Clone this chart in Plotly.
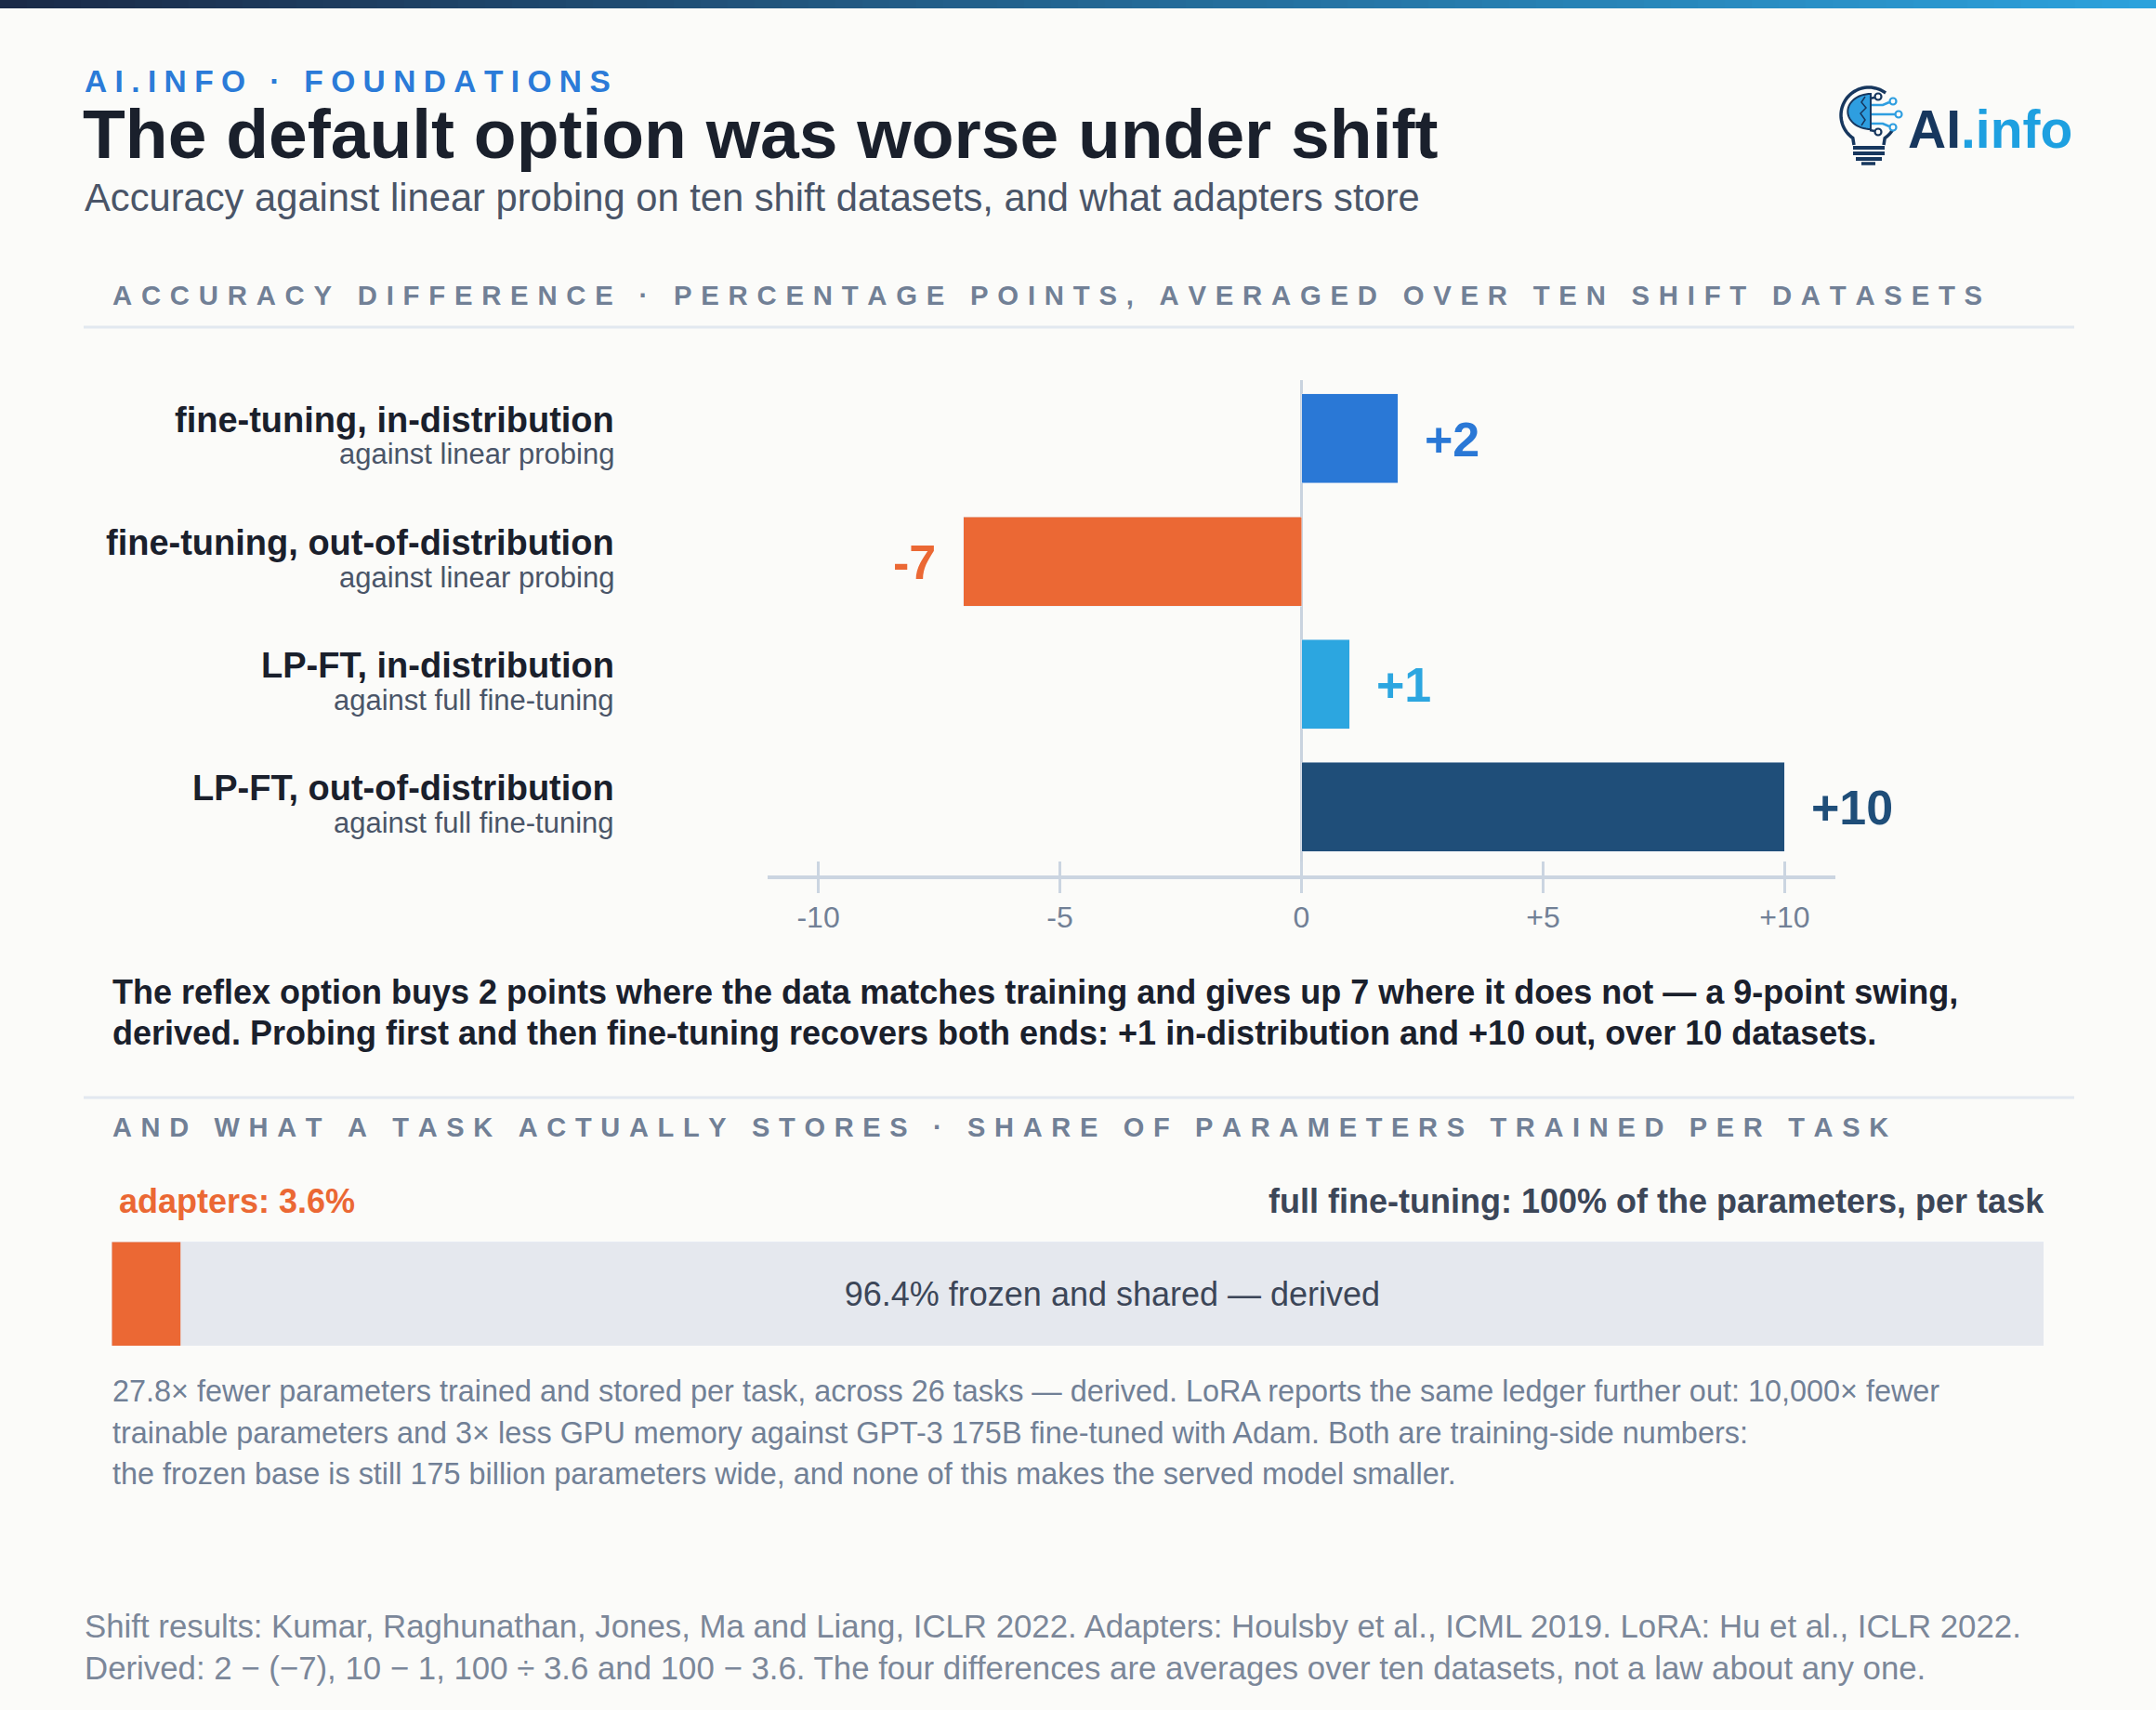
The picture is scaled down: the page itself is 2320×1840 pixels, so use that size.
import plotly.graph_objects as go

W, H = 2320, 1840
FONT = "Liberation Sans, Arial, Helvetica, sans-serif"

# accuracy differences, percentage points, averaged over ten shift datasets
categories = ["fine-tuning, in-distribution", "fine-tuning, out-of-distribution",
              "LP-FT, in-distribution", "LP-FT, out-of-distribution"]
baselines = ["against linear probing", "against linear probing",
             "against full fine-tuning", "against full fine-tuning"]
differences = [2, -7, 1, 10]
bar_colors = ["#2a78d6", "#eb6834", "#2ca6e0", "#1f4e79"]
tick_values = [-10, -5, 0, 5, 10]
tick_labels = ["-10", "-5", "0", "+5", "+10"]

# share of parameters trained per task
adapter_share = 3.6
frozen_share = 96.4


def X(p):
    return p / W


def Y(p):
    return 1 - p / H


def spaced(s, sep):
    # poor man's letter-spacing
    return sep.join(s)


def label(x, y, s, size, color, bold=False, anchor="left"):
    if bold:
        s = "<b>" + s + "</b>"
    return dict(x=X(x), y=Y(y), xref="paper", yref="paper", text=s, showarrow=False,
                xanchor=anchor, yanchor="middle", font=dict(family=FONT, size=size, color=color))


fig = go.Figure()

# difference bars
fig.add_trace(go.Bar(y=categories, x=differences, orientation="h", marker_color=bar_colors,
                     width=0.727, hoverinfo="skip", showlegend=False))
# carrier for the upward half of the tick marks
fig.add_trace(go.Scatter(x=[0], y=[categories[0]], xaxis="x2", yaxis="y", mode="markers",
                         marker=dict(opacity=0), hoverinfo="skip", showlegend=False))
# parameter share bar
fig.add_trace(go.Bar(y=["share"], x=[adapter_share], orientation="h", marker_color="#eb6834",
                     width=1, xaxis="x3", yaxis="y3", hoverinfo="skip", showlegend=False))
fig.add_trace(go.Bar(y=["share"], x=[frozen_share], orientation="h", marker_color="#e5e8ee",
                     width=1, xaxis="x3", yaxis="y3", hoverinfo="skip", showlegend=False,
                     text=[f"{frozen_share}% frozen and shared \u2014 derived"],
                     textposition="inside", insidetextanchor="middle", textangle=0,
                     textfont=dict(family=FONT, size=36, color="#3c4658")))

axis_color = "#cbd5e1"
xr = [-11.05, 11.05]
fig.update_layout(
    width=W, height=H, margin=dict(l=0, r=0, t=0, b=0),
    paper_bgcolor="#fbfbf9", plot_bgcolor="rgba(0,0,0,0)",
    barmode="stack", hovermode=False, showlegend=False,
    font=dict(family=FONT),
    xaxis=dict(domain=[X(826), X(1975)], range=xr, anchor="y", showgrid=False,
               zeroline=True, zerolinecolor="#c9d3df", zerolinewidth=3, layer="below traces",
               showline=True, linecolor=axis_color, linewidth=4,
               ticks="outside", ticklen=15, tickwidth=3, tickcolor=axis_color,
               tickvals=tick_values, ticktext=tick_labels, ticklabelstandoff=-1,
               tickfont=dict(family=FONT, size=32, color="#718096")),
    xaxis2=dict(overlaying="x", anchor="y", side="bottom", range=xr, showgrid=False,
                zeroline=False, showline=False, ticks="inside", ticklen=15, tickwidth=3,
                tickcolor=axis_color, tickvals=tick_values, showticklabels=False),
    yaxis=dict(domain=[Y(942), Y(409)], type="category", categoryarray=categories,
               range=[3.56, -0.477], showgrid=False, zeroline=False, showline=False,
               showticklabels=False, ticks=""),
    xaxis3=dict(domain=[X(120), X(2199)], range=[0, 100], anchor="y3", visible=False),
    yaxis3=dict(domain=[Y(1448), Y(1336)], range=[-0.5, 0.5], anchor="x3", visible=False),
)

ann = []
ann.append(label(89, 88, spaced("AI.INFO \u00b7 FOUNDATIONS", "\u2005"), 33.5, "#2b7bd8", bold=True))
ann.append(label(87, 144, "The default option was worse under shift", 75, "#1a202c", bold=True))
ann.append(label(89, 212, "Accuracy against linear probing on ten shift datasets, and what adapters store",
                 41.7, "#4a5568"))
ann.append(label(119, 318, spaced("ACCURACY DIFFERENCE \u00b7 PERCENTAGE POINTS, AVERAGED OVER TEN SHIFT DATASETS", "\u2004"),
                 29.3, "#718096", bold=True))

# row labels
for cat, base in zip(categories, baselines):
    ann.append(dict(x=X(663), y=cat, xref="paper", yref="y", text="<b>" + cat + "</b>",
                    showarrow=False, xanchor="right", yanchor="middle", yshift=20,
                    font=dict(family=FONT, size=38, color="#1a202c")))
    ann.append(dict(x=X(663), y=cat, xref="paper", yref="y", text=base,
                    showarrow=False, xanchor="right", yanchor="middle", yshift=-17,
                    font=dict(family=FONT, size=31, color="#4a5568")))

# value labels
for cat, v, c in zip(categories, differences, bar_colors):
    ann.append(dict(x=v, y=cat, xref="x", yref="y", text=f"<b>{v:+d}</b>", showarrow=False,
                    xanchor="left" if v > 0 else "right", xshift=27 if v > 0 else -28,
                    yanchor="middle", yshift=-1, font=dict(family=FONT, size=52, color=c)))

ann.append(label(119, 1067, "The reflex option buys 2 points where the data matches training and gives up 7 where it does not \u2014 a 9-point swing,",
                 36, "#1a202c", bold=True))
ann.append(label(119, 1111, "derived. Probing first and then fine-tuning recovers both ends: +1 in-distribution and +10 out, over 10 datasets.",
                 36, "#1a202c", bold=True))

ann.append(label(119, 1213, spaced("AND WHAT A TASK ACTUALLY STORES \u00b7 SHARE OF PARAMETERS TRAINED PER TASK", "\u2004"),
                 29, "#718096", bold=True))
ann.append(label(126, 1292, f"adapters: {adapter_share}%", 36, "#eb6834", bold=True))
ann.append(label(2202, 1292, f"full fine-tuning: {adapter_share + frozen_share:.0f}% of the parameters, per task",
                 36, "#3c4658", bold=True, anchor="right"))

notes = ["27.8\u00d7 fewer parameters trained and stored per task, across 26 tasks \u2014 derived. LoRA reports the same ledger further out: 10,000\u00d7 fewer",
         "trainable parameters and 3\u00d7 less GPU memory against GPT-3 175B fine-tuned with Adam. Both are training-side numbers:",
         "the frozen base is still 175 billion parameters wide, and none of this makes the served model smaller."]
for i, line in enumerate(notes):
    ann.append(label(119, 1497 + 44.5 * i, line, 32.4, "#718096"))

sources = ["Shift results: Kumar, Raghunathan, Jones, Ma and Liang, ICLR 2022. Adapters: Houlsby et al., ICML 2019. LoRA: Hu et al., ICLR 2022.",
           "Derived: 2 \u2212 (\u22127), 10 \u2212 1, 100 \u00f7 3.6 and 100 \u2212 3.6. The four differences are averages over ten datasets, not a law about any one."]
for i, line in enumerate(sources):
    ann.append(label(89, 1749 + 45 * i, line, 34.8, "#7b8799"))

# logo wordmark
ann.append(label(2232, 139, "<span style='color:#17375e'>AI</span><span style='color:#1ea0e0'>.info</span>",
                 57, "#17375e", bold=True, anchor="right"))

fig.update_layout(annotations=ann)

shapes = []
# top gradient strip
n = 80
c0, c1 = (27, 42, 72), (44, 162, 220)
for i in range(n):
    t = i / (n - 1)
    col = "rgb(%d,%d,%d)" % tuple(round(a + (b - a) * t) for a, b in zip(c0, c1))
    shapes.append(dict(type="rect", xref="paper", yref="paper", x0=i / n, x1=(i + 1) / n + 0.001,
                       y0=Y(9), y1=1, fillcolor=col, line=dict(width=0), layer="above"))

# section rules
for yy in (352, 1181):
    shapes.append(dict(type="line", xref="paper", yref="paper", x0=X(90), x1=X(2232),
                       y0=Y(yy), y1=Y(yy), line=dict(color="#e2e8f0", width=3)))

# lightbulb logo
import math

navy, sky = "#17375e", "#2e9ee0"


def path(points, close=False):
    s = "M " + " L ".join(f"{X(a):.5f},{Y(b):.5f}" for a, b in points)
    return s + (" Z" if close else "")


def arc(cx, cy, r, a0, a1, steps=40):
    return [(cx + r * math.cos(math.radians(a0 + (a1 - a0) * k / steps)),
             cy - r * math.sin(math.radians(a0 + (a1 - a0) * k / steps))) for k in range(steps + 1)]


cx, cy, r = 2011, 124, 30
left = arc(cx, cy, r, 53, 235) + [(1995, 156)]
right = arc(cx, cy, r, -20, -55) + [(2027, 156)]
for pts in (left, right):
    shapes.append(dict(type="path", xref="paper", yref="paper", path=path(pts),
                       line=dict(color=navy, width=3.5)))
for yy, xa, xb, w in ((159, 1994, 2028, 4), (165, 1994, 2028, 4), (171, 1997, 2025, 4), (176, 2003, 2018, 3.5)):
    shapes.append(dict(type="line", xref="paper", yref="paper", x0=X(xa), x1=X(xb), y0=Y(yy), y1=Y(yy),
                       line=dict(color=navy, width=w)))
# brain
brain = arc(2013, 120, 19, 90, 270, 30)
brain = [(2013 - (2013 - a) * 1.3, b) for a, b in brain]
shapes.append(dict(type="path", xref="paper", yref="paper", path=path(brain, close=True),
                   fillcolor=sky, line=dict(color=navy, width=2)))
shapes.append(dict(type="path", xref="paper", yref="paper",
                   path=path([(2007, 104), (2003, 110), (2008, 116), (2002, 122), (2007, 129), (2003, 135)]),
                   line=dict(color=navy, width=1.5)))
# circuits
for pts, col in (([(2014, 113), (2026, 113), (2033, 110)], sky),
                 ([(2014, 123), (2039, 123)], sky),
                 ([(2014, 133), (2026, 133), (2033, 136)], sky),
                 ([(2012, 106), (2017, 105)], navy),
                 ([(2012, 140), (2017, 141)], navy)):
    shapes.append(dict(type="path", xref="paper", yref="paper", path=path(pts),
                       line=dict(color=col, width=2.5)))
for (ux, uy), col in (((2037, 109), sky), ((2043, 123), sky), ((2037, 137), sky),
                      ((2021, 104), navy), ((2021, 142), navy)):
    shapes.append(dict(type="circle", xref="paper", yref="paper", x0=X(ux - 3.5), x1=X(ux + 3.5),
                       y0=Y(uy + 3.5), y1=Y(uy - 3.5), fillcolor="#fbfbf9", line=dict(color=col, width=2.2)))

fig.update_layout(shapes=shapes)

# the page has a default body margin; drop it so the figure fills the window exactly
fig.write_html("out.html", config={"displayModeBar": False},
               post_script="document.body.style.margin='0';")
